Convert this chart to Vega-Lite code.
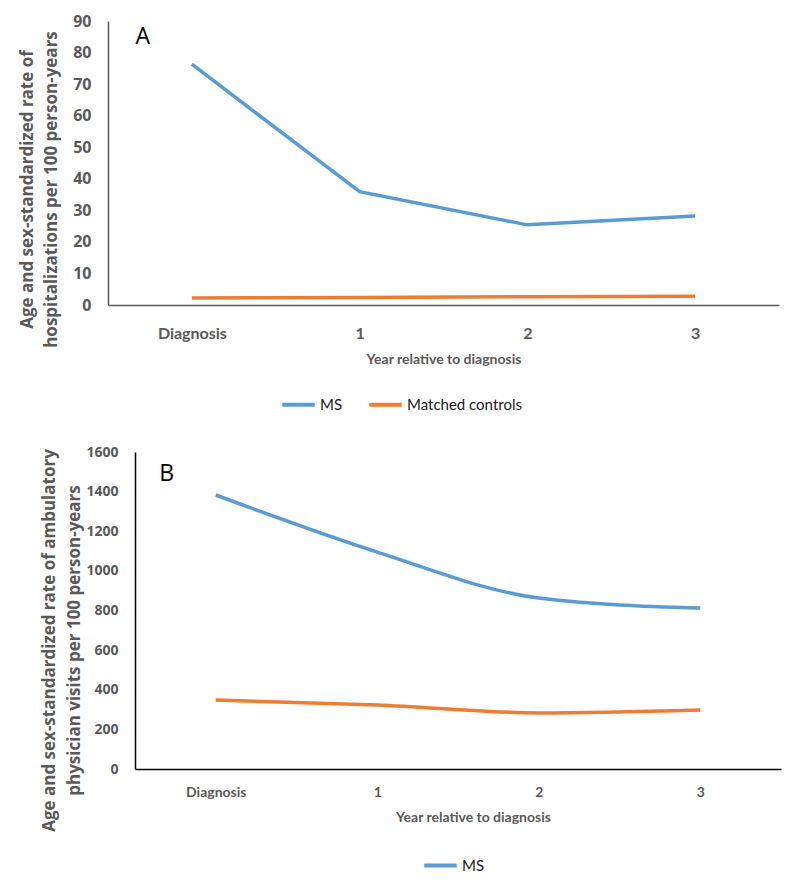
{
  "$schema": "https://vega.github.io/schema/vega-lite/v6.json",
  "padding": {"left": 17, "top": 13, "right": 5, "bottom": 5},
  "background": "white",
  "datasets": {
    "hosp": [
      {"year": "Diagnosis", "group": "MS", "rate": 76.3},
      {"year": "1", "group": "MS", "rate": 35.9},
      {"year": "2", "group": "MS", "rate": 25.4},
      {"year": "3", "group": "MS", "rate": 28.2},
      {"year": "Diagnosis", "group": "Matched controls", "rate": 2.2},
      {"year": "1", "group": "Matched controls", "rate": 2.4},
      {"year": "2", "group": "Matched controls", "rate": 2.6},
      {"year": "3", "group": "Matched controls", "rate": 2.8}
    ],
    "visits": [
      {"year": "Diagnosis", "group": "MS", "rate": 1383},
      {"year": "1", "group": "MS", "rate": 1095},
      {"year": "2", "group": "MS", "rate": 863},
      {"year": "3", "group": "MS", "rate": 812},
      {"year": "Diagnosis", "group": "Matched controls", "rate": 348},
      {"year": "1", "group": "Matched controls", "rate": 323},
      {"year": "2", "group": "Matched controls", "rate": 283},
      {"year": "3", "group": "Matched controls", "rate": 298}
    ],
    "empty": []
  },
  "spacing": 32,
  "vconcat": [
    {
      "spacing": 0,
      "hconcat": [
        {
          "width": 1,
          "height": 1,
          "data": {"name": "empty"},
          "mark": {"type": "point", "opacity": 0}
        },
        {
          "width": 671,
          "height": 284,
          "layer": [
            {
              "data": {"name": "hosp"},
              "mark": {"type": "line", "strokeWidth": 3.5},
              "encoding": {
                "x": {
                  "field": "year", "type": "ordinal",
                  "scale": {"type": "point", "padding": 0.5, "domain": ["Diagnosis", "1", "2", "3"]},
                  "axis": {
                    "title": "Year relative to diagnosis",
                    "labelAngle": 0, "labelFont": "Lato", "labelFontWeight": "bold", "labelFontSize": 16,
                    "labelColor": "#595959", "labelPadding": 20,
                    "titleFont": "Lato", "titleFontSize": 14, "titleFontWeight": "bold", "titleColor": "#595959",
                    "titlePadding": 11, "domainColor": "#595959", "domainWidth": 1.5
                  }
                },
                "y": {
                  "field": "rate", "type": "quantitative",
                  "scale": {"domain": [0, 90], "nice": false},
                  "axis": {
                    "title": ["Age and sex-standardized rate of", "hospitalizations per 100 person-years"],
                    "tickCount": 9,
                    "format": "d", "labelOverlap": false,
                    "labelFont": "Open Sans", "labelFontWeight": "bold", "labelFontSize": 16,
                    "labelColor": "#595959", "labelPadding": 17,
                    "titleFont": "Open Sans", "titleFontSize": 17, "titleFontWeight": "bold", "titleColor": "#595959",
                    "titleLineHeight": 24, "titlePadding": 12, "titleY": 168,
                    "domainColor": "#595959", "domainWidth": 1.5
                  }
                },
                "color": {
                  "field": "group", "type": "nominal",
                  "scale": {"domain": ["MS", "Matched controls"], "range": ["#5B9BD5", "#ED7D31"]},
                  "legend": {"orient": "none", "legendX": 172, "legendY": 365, "direction": "horizontal", "title": null}
                }
              }
            },
            {
              "data": {"values": [{"label": "A"}]},
              "mark": {"type": "text", "font": "Open Sans", "fontSize": 23, "color": "#000000", "dx": -49},
              "encoding": {
                "x": {"datum": "Diagnosis"},
                "y": {"datum": 85},
                "text": {"field": "label"}
              }
            }
          ]
        }
      ],
      "resolve": {
        "scale": {"x": "independent", "y": "independent", "color": "independent"},
        "axis": {"x": "independent", "y": "independent"},
        "legend": {"color": "independent"}
      }
    },
    {
      "spacing": 0,
      "hconcat": [
        {
          "width": 23,
          "height": 1,
          "data": {"name": "empty"},
          "mark": {"type": "point", "opacity": 0}
        },
        {
          "width": 646,
          "height": 317,
          "layer": [
            {
              "data": {"name": "visits"},
              "mark": {"type": "line", "strokeWidth": 3.5, "interpolate": "monotone"},
              "encoding": {
                "x": {
                  "field": "year", "type": "ordinal",
                  "scale": {"type": "point", "padding": 0.5, "domain": ["Diagnosis", "1", "2", "3"]},
                  "axis": {
                    "title": "Year relative to diagnosis",
                    "labelAngle": 0, "labelFont": "Lato", "labelFontWeight": "bold", "labelFontSize": 14,
                    "labelColor": "#595959", "labelPadding": 16,
                    "titleFont": "Lato", "titleFontSize": 14, "titleFontWeight": "bold", "titleColor": "#595959",
                    "titlePadding": 11, "titleX": 338, "domainColor": "#000000", "domainWidth": 1.5
                  }
                },
                "y": {
                  "field": "rate", "type": "quantitative",
                  "scale": {"domain": [0, 1600], "nice": false},
                  "axis": {
                    "title": ["Age and sex-standardized rate of ambulatory", "physician visits per 100 person-years"],
                    "values": [0, 200, 400, 600, 800, 1000, 1200, 1400, 1600],
                    "tickCount": 9,
                    "format": "d", "labelOverlap": false,
                    "labelFont": "Open Sans", "labelFontWeight": "bold", "labelFontSize": 14,
                    "labelColor": "#595959", "labelPadding": 17,
                    "titleFont": "Open Sans", "titleFontSize": 17, "titleFontWeight": "bold", "titleColor": "#595959",
                    "titleLineHeight": 25, "titlePadding": 2, "titleY": 188,
                    "domainColor": "#000000", "domainWidth": 1.5
                  }
                },
                "color": {
                  "field": "group", "type": "nominal",
                  "scale": {"domain": ["MS", "Matched controls"], "range": ["#5B9BD5", "#ED7D31"]},
                  "legend": {"orient": "none", "legendX": 287, "legendY": 395, "direction": "horizontal", "title": null, "values": ["MS"]}
                }
              }
            },
            {
              "data": {"values": [{"label": "B"}]},
              "mark": {"type": "text", "font": "Open Sans", "fontSize": 23, "color": "#000000", "dx": -49},
              "encoding": {
                "x": {"datum": "Diagnosis"},
                "y": {"datum": 1489},
                "text": {"field": "label"}
              }
            }
          ]
        }
      ],
      "resolve": {
        "scale": {"x": "independent", "y": "independent", "color": "independent"},
        "axis": {"x": "independent", "y": "independent"},
        "legend": {"color": "independent"}
      }
    }
  ],
  "resolve": {
    "scale": {"x": "independent", "y": "independent", "color": "independent"},
    "axis": {"x": "independent", "y": "independent"},
    "legend": {"color": "independent"}
  },
  "config": {
    "view": {"stroke": null},
    "axis": {"grid": false, "ticks": false, "tickSize": 0},
    "legend": {
      "symbolType": "stroke", "symbolStrokeWidth": 4, "symbolSize": 1050,
      "labelFont": "Lato", "labelFontSize": 15, "labelColor": "#1a1a1a",
      "labelOffset": 3, "columnPadding": 18, "padding": 0
    }
  }
}
